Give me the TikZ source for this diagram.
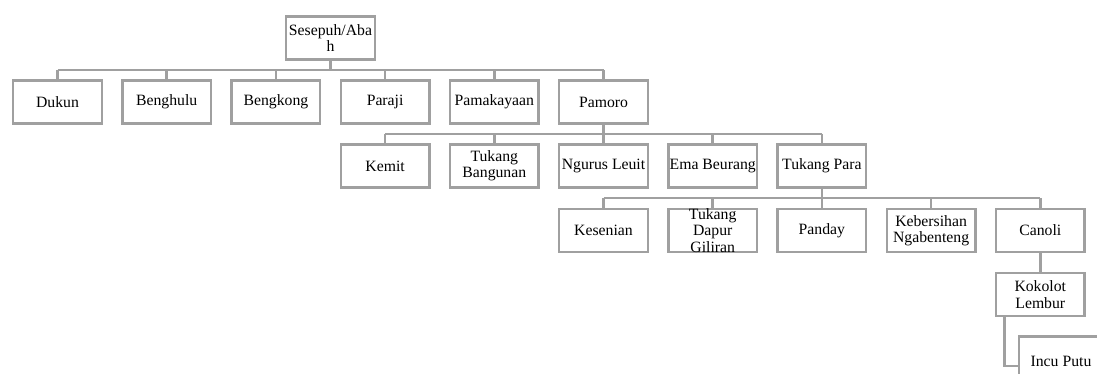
\documentclass[tikz,border=0pt]{standalone}
\usepackage{fontspec}
\setmainfont{Liberation Serif}
\definecolor{linegray}{RGB}{160,160,160}
\begin{document}
\begin{tikzpicture}[x=0.75pt,y=-0.75pt,
  conn/.style={draw=linegray,line width=1.875pt},
  box/.style={draw=linegray,line width=1.875pt,fill=white,minimum width=66.4pt,minimum height=32.6pt,inner sep=0pt},
  tallbox/.style={box,minimum height=44.1pt},
  txt/.style={font=\fontsize{11.8pt}{12.2pt}\selectfont,align=center,inner sep=0pt}]
\useasboundingbox (0,0) rectangle (1097,374);
\clip (0,0) rectangle (1097,374);
% bus coordinates
\coordinate (b1) at (330.5,70);
\coordinate (b2) at (603.5,134);
\coordinate (b3) at (821.9,198);
\coordinate (bend) at (1004.5,366);
% boxes
\node[box] (top) at (330.5,38) {};
\node[box] (dukun) at (57.5,102) {};
\node[box] (benghulu) at (166.7,102) {};
\node[box] (bengkong) at (275.9,102) {};
\node[box] (paraji) at (385.1,102) {};
\node[box] (pamakayaan) at (494.3,102) {};
\node[box] (pamoro) at (603.5,102) {};
\node[box] (kemit) at (385.1,166) {};
\node[box] (bangunan) at (494.3,166) {};
\node[box] (leuit) at (603.5,166) {};
\node[box] (ema) at (712.7,166) {};
\node[box] (para) at (821.9,166) {};
\node[box] (kesenian) at (603.5,230.5) {};
\node[box] (dapur) at (712.7,230.5) {};
\node[box] (panday) at (821.9,230.5) {};
\node[box] (kebersihan) at (931.1,230.5) {};
\node[box] (canoli) at (1040.3,230.5) {};
\node[box] (kokolot) at (1040.3,294.5) {};
\node[tallbox] (incu) at (1063.5,366) {};
% connectors
\draw[conn] (top.south) -- (b1);
\draw[conn] (b1 -| dukun.north) -- (b1 -| pamoro.north);
\foreach \n in {dukun,benghulu,bengkong,paraji,pamakayaan,pamoro}
  \draw[conn] (b1 -| \n.north) -- (\n.north);
\draw[conn] (pamoro.south) -- (b2);
\draw[conn] (b2 -| kemit.north) -- (b2 -| para.north);
\foreach \n in {kemit,bangunan,leuit,ema,para}
  \draw[conn] (b2 -| \n.north) -- (\n.north);
\draw[conn] (para.south) -- (b3);
\draw[conn] (b3 -| kesenian.north) -- (b3 -| canoli.north);
\foreach \n in {kesenian,dapur,panday,kebersihan,canoli}
  \draw[conn] (b3 -| \n.north) -- (\n.north);
\draw[conn] (canoli.south) -- (kokolot.north);
\draw[conn] (kokolot.south -| bend) -- (bend) -- (incu.west);
% texts
\node[txt] (topt) at (top) {Sesepuh/Aba\\h};
\node[txt] (dukunt) at (dukun) {Dukun};
\node[txt] (benghulut) at (benghulu) {Benghulu};
\node[txt] (bengkongt) at (bengkong) {Bengkong};
\node[txt] (parajit) at (paraji) {Paraji};
\node[txt] (pamakayaant) at (pamakayaan) {Pamakayaan};
\node[txt] (pamorot) at (pamoro) {Pamoro};
\node[txt] (kemitt) at (kemit) {Kemit};
\node[txt] (bangunant) at (bangunan) {Tukang\\Bangunan};
\node[txt] (leuitt) at (leuit) {Ngurus Leuit};
\node[txt] (emat) at (ema) {Ema Beurang};
\node[txt] (parat) at (para) {Tukang Para};
\node[txt] (kiseniant) at (kesenian) {Kesenian};
\node[txt] (dapurt) at (dapur) {Tukang\\Dapur\\Giliran};
\node[txt] (pandayt) at (panday) {Panday};
\node[txt] (kebersihant) at (kebersihan) {Kebersihan\\Ngabenteng};
\node[txt] (canolit) at (canoli) {Canoli};
\node[txt] (kokolott) at (kokolot) {Kokolot\\Lembur};
\node[txt] (incut) at (1061,361) {Incu Putu};
\end{tikzpicture}
\end{document}
